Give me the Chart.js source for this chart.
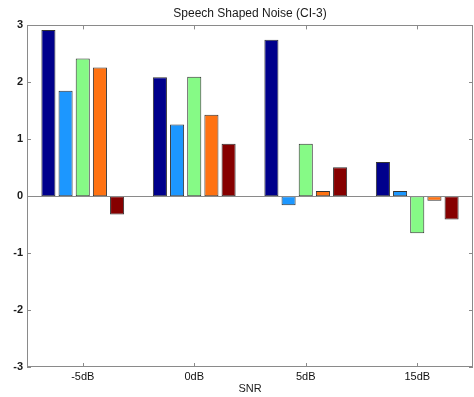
<!DOCTYPE html>
<html>
<head>
<meta charset="utf-8">
<script src="https://cdn.jsdelivr.net/npm/chart.js@4/dist/chart.umd.min.js"></script>
<style>
  html, body { margin: 0; padding: 0; background: #fff; }
  #wrap { width: 474px; height: 397px; }
</style>
</head>
<body>
<div id="wrap"><canvas id="c" width="474" height="397"></canvas></div>
<script>
// SNR conditions on the x axis
const categories = ['-5dB', '0dB', '5dB', '15dB'];

// One series per bar colour within each SNR group
const series1 = [2.92, 2.09, 2.75, 0.60];
const series2 = [1.85, 1.26, -0.16, 0.09];
const series3 = [2.42, 2.10, 0.92, -0.65];
const series4 = [2.26, 1.43, 0.09, -0.08];
const series5 = [-0.32, 0.92, 0.51, -0.41];

const yTicks = [-3, -2, -1, 0, 1, 2, 3];

const colors = ['#00008c', '#1c97ff', '#86fa86', '#ff7212', '#860000'];
const seriesList = [series1, series2, series3, series4, series5];

const FONT = 'Liberation Sans, Arial, Helvetica, sans-serif';
const AXIS_GRAY = '#8a8a8a';

// Box around the axes, inward tick marks on all four sides and the bar baseline
const axesBox = {
  id: 'axesBox',
  afterDatasetsDraw(chart) {
    const { ctx, chartArea: a, scales: { x, y } } = chart;
    const len = 4;
    ctx.save();
    ctx.strokeStyle = AXIS_GRAY;
    ctx.lineWidth = 1;
    // zero baseline
    const y0 = Math.round(y.getPixelForValue(0)) + 0.5;
    ctx.beginPath();
    ctx.moveTo(a.left, y0);
    ctx.lineTo(a.right, y0);
    ctx.stroke();
    // frame
    ctx.strokeRect(Math.round(a.left) + 0.5, Math.round(a.top) + 0.5,
      Math.round(a.right - a.left) - 1, Math.round(a.bottom - a.top) - 1);
    ctx.beginPath();
    categories.forEach((c, i) => {
      const px = Math.round(x.getPixelForValue(i)) + 0.5;
      ctx.moveTo(px, a.top); ctx.lineTo(px, a.top + len);
      ctx.moveTo(px, a.bottom); ctx.lineTo(px, a.bottom - len);
    });
    yTicks.forEach(v => {
      const py = Math.round(y.getPixelForValue(v)) + 0.5;
      ctx.moveTo(a.left, py); ctx.lineTo(a.left + len, py);
      ctx.moveTo(a.right, py); ctx.lineTo(a.right - len, py);
    });
    ctx.stroke();
    ctx.restore();
  }
};

new Chart(document.getElementById('c'), {
  type: 'bar',
  data: {
    labels: categories,
    datasets: seriesList.map((d, i) => ({
      data: d,
      backgroundColor: colors[i],
      borderColor: '#333333',
      borderWidth: 1,
      borderSkipped: false,
      categoryPercentage: 0.77,
      barPercentage: 0.82
    }))
  },
  options: {
    responsive: false,
    animation: false,
    devicePixelRatio: 1,
    layout: { padding: { left: 0, right: 1, top: 0, bottom: 0 } },
    plugins: {
      legend: { display: false },
      tooltip: { enabled: false },
      title: {
        display: true,
        text: 'Speech Shaped Noise (CI-3)',
        fullSize: false,
        color: '#1a1a1a',
        font: { family: FONT, size: 12, weight: 'normal' },
        padding: { top: 6, bottom: 5 }
      }
    },
    scales: {
      x: {
        offset: true,
        grid: { display: false, drawTicks: false },
        border: { display: false },
        ticks: { color: '#111', font: { family: FONT, size: 11 }, padding: 3, maxRotation: 0 },
        title: {
          display: true, text: 'SNR', color: '#1a1a1a',
          font: { family: FONT, size: 11 }, padding: { top: 0, bottom: 1.5 }
        },
        afterFit(s) { s.height = 30; }
      },
      y: {
        min: -3, max: 3,
        grid: { display: false, drawTicks: false },
        border: { display: false },
        ticks: {
          stepSize: 1, color: '#1a1a1a', padding: 4,
          font: { family: FONT, size: 11, weight: 'bold' },
          callback: v => yTicks.includes(v) ? String(v) : ''
        },
        afterFit(s) { s.width = 27; }
      }
    }
  },
  plugins: [axesBox]
});
</script>
</body>
</html>
